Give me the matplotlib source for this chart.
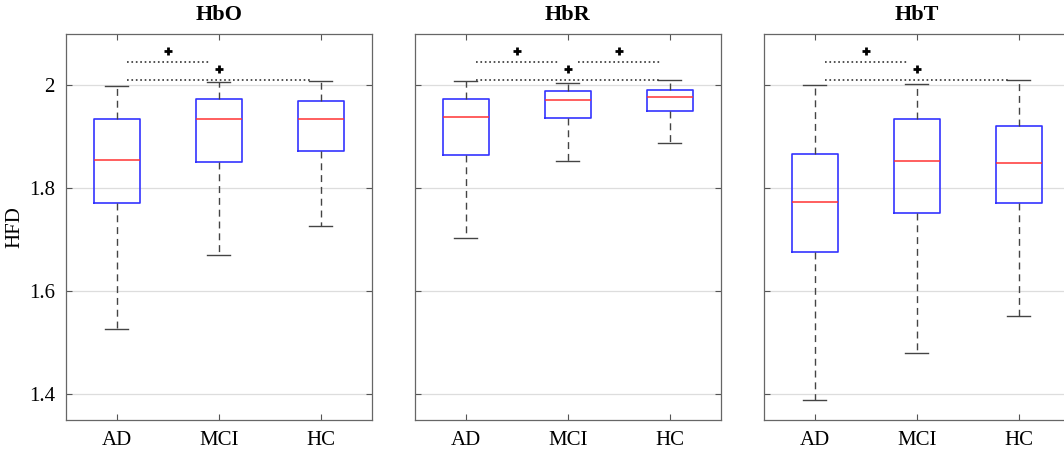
import matplotlib
matplotlib.use("Agg")
import matplotlib.pyplot as plt

GROUPS = ["AD", "MCI", "HC"]
PANELS = ["HbO", "HbR", "HbT"]

# box statistics per panel, one value per group (AD, MCI, HC)
HBO_LOW = [1.527, 1.671, 1.727]
HBO_Q1 = [1.771, 1.852, 1.872]
HBO_MED = [1.856, 1.934, 1.935]
HBO_Q3 = [1.934, 1.973, 1.970]
HBO_HIGH = [1.999, 2.006, 2.008]

HBR_LOW = [1.703, 1.854, 1.888]
HBR_Q1 = [1.865, 1.936, 1.950]
HBR_MED = [1.939, 1.972, 1.978]
HBR_Q3 = [1.974, 1.989, 1.991]
HBR_HIGH = [2.008, 2.004, 2.010]

HBT_LOW = [1.389, 1.481, 1.552]
HBT_Q1 = [1.676, 1.752, 1.771]
HBT_MED = [1.774, 1.854, 1.850]
HBT_Q3 = [1.867, 1.934, 1.921]
HBT_HIGH = [2.000, 2.003, 2.010]

# significance brackets: (group a, group b, level)
HBO_SIG = [(1, 2, 2.045), (1, 3, 2.010)]
HBR_SIG = [(1, 2, 2.045), (2, 3, 2.045), (1, 3, 2.010)]
HBT_SIG = [(1, 2, 2.045), (1, 3, 2.010)]

YTICKS = [1.4, 1.6, 1.8, 2.0]
YTICK_LABELS = ["1.4", "1.6", "1.8", "2"]

plt.rcParams["font.family"] = ["Liberation Serif", "DejaVu Serif"]

stats_all = [
    (HBO_LOW, HBO_Q1, HBO_MED, HBO_Q3, HBO_HIGH),
    (HBR_LOW, HBR_Q1, HBR_MED, HBR_Q3, HBR_HIGH),
    (HBT_LOW, HBT_Q1, HBT_MED, HBT_Q3, HBT_HIGH),
]
sig_all = [HBO_SIG, HBR_SIG, HBT_SIG]

fig = plt.figure(figsize=(10.64, 4.51), dpi=100)
lefts = [0.062, 0.3898, 0.718]
axw = 0.2876
bottom = 0.0687
axh = 0.856

for i, name in enumerate(PANELS):
    ax = fig.add_axes([lefts[i], bottom, axw, axh])
    low, q1, med, q3, high = stats_all[i]
    stats = []
    for j, g in enumerate(GROUPS):
        stats.append({"label": g, "whislo": low[j], "q1": q1[j], "med": med[j],
                      "q3": q3[j], "whishi": high[j], "fliers": []})
    ax.bxp(stats, positions=[1, 2, 3], widths=0.45, showfliers=False,
           boxprops=dict(color="#3333ff", linewidth=1.2),
           medianprops=dict(color="#ff3333", linewidth=1.1),
           whiskerprops=dict(color="#444444", linewidth=1.0, linestyle=(0, (5, 3.5))),
           capprops=dict(color="#444444", linewidth=1.0))

    for a, b, lvl in sig_all[i]:
        ax.plot([a + 0.1, b - 0.1], [lvl, lvl], color="#333333", linestyle=":",
                linewidth=1.2)
        ax.plot([(a + b) / 2], [lvl + 0.022], marker="+", color="black",
                markersize=6, markeredgewidth=2.0)

    ax.set_xlim(0.5, 3.5)
    ax.set_ylim(1.35, 2.1)
    ax.set_yticks(YTICKS)
    ax.set_xticks([1, 2, 3])
    ax.set_xticklabels(GROUPS, fontsize=15)
    if i == 0:
        ax.set_yticklabels(YTICK_LABELS, fontsize=15)
        ax.set_ylabel("HFD", fontsize=15, labelpad=3)
    else:
        ax.set_yticklabels([])
    ax.grid(axis="y", color="#dddddd", linewidth=0.9)
    ax.set_axisbelow(True)
    ax.tick_params(direction="in", length=4, width=0.8, color="#555555",
                   top=True, right=True, pad=8)
    for s in ax.spines.values():
        s.set_color("#666666")
        s.set_linewidth(0.9)
    ax.set_title(name, fontsize=16, fontweight="bold", pad=10)

fig.savefig("out.png", dpi=100)
